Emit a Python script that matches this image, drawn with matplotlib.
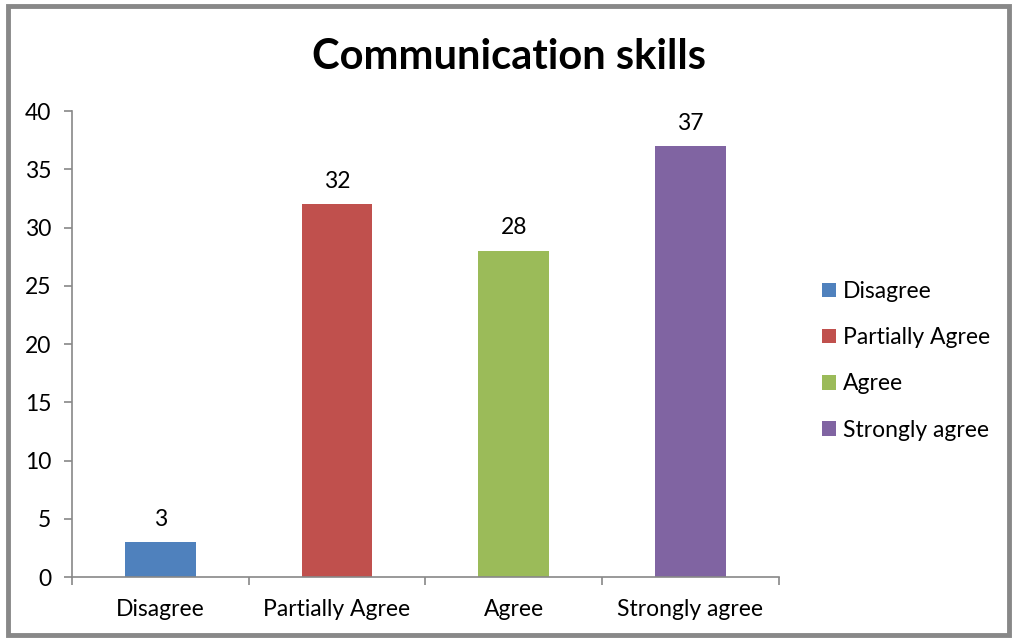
import matplotlib.pyplot as plt
from matplotlib.patches import Rectangle

categories = ['Disagree', 'Partially Agree', 'Agree', 'Strongly agree']
values = [3, 32, 28, 37]
colors = ['#4F81BD', '#C0504D', '#9BBB59', '#8064A2']

plt.rcParams['font.family'] = ['Lato', 'DejaVu Sans']
fs = 16.5

fig = plt.figure(figsize=(10.17, 6.39), dpi=100)
ax = fig.add_axes([0.0708, 0.097, 0.695, 0.729])

x = range(len(categories))
bars = ax.bar(x, values, width=0.4, color=colors, label=categories)
for b, v in zip(bars, values):
    ax.annotate(str(v), (b.get_x() + b.get_width() / 2, v), xytext=(0, 9),
                textcoords='offset points', ha='center', va='bottom', fontsize=fs)

ax.set_xlim(-0.5, len(categories) - 0.5)
ax.set_ylim(0, 40)
ax.set_yticks(range(0, 41, 5))
ax.set_xticks(list(x))
ax.set_xticklabels(categories, fontsize=fs)
ax.set_xticks([i - 0.5 for i in range(len(categories) + 1)], minor=True)
ax.tick_params(axis='x', which='major', length=0, pad=16)
ax.tick_params(axis='x', which='minor', length=6, color='#888888', width=1.2)
ax.tick_params(axis='y', length=6, color='#888888', width=1.2, labelsize=fs, pad=9)
for s in ['top', 'right']:
    ax.spines[s].set_visible(False)
for s in ['left', 'bottom']:
    ax.spines[s].set_color('#888888')
    ax.spines[s].set_linewidth(1.2)

ax.legend(loc='center left', bbox_to_anchor=(1.032, 0.464), frameon=False, fontsize=fs,
          handlelength=0.6, handleheight=0.6, handletextpad=0.3, labelspacing=1.1)

fig.suptitle('Communication skills', fontsize=30, fontweight='bold', y=0.94)

fig.patches.append(Rectangle((0.0074, 0.007), 0.985, 0.983, transform=fig.transFigure,
                             fill=False, edgecolor='#888888', linewidth=3.5))

fig.savefig('out.png', dpi=100)
